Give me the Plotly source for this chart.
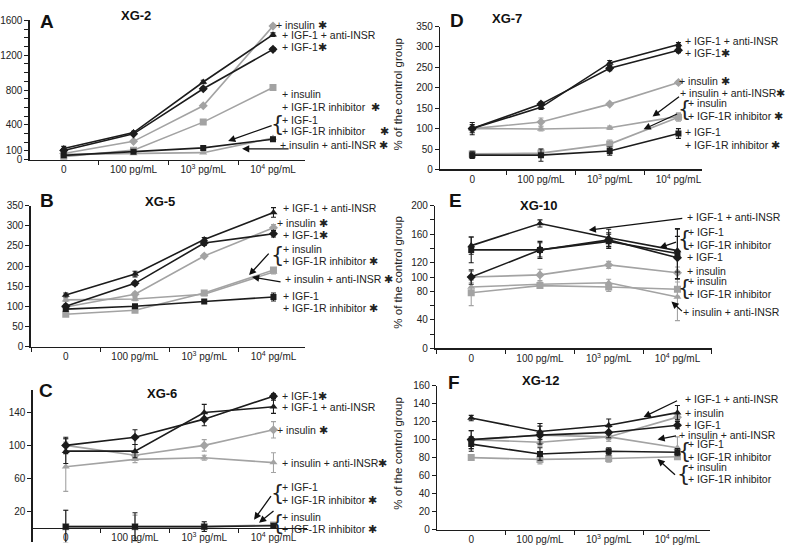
import plotly.graph_objects as go

# ---------------- data ----------------
CATEGORIES = ["0", "100 pg/mL", "10<sup>3</sup> pg/mL", "10<sup>4</sup> pg/mL"]
SERIES = ["IGF-1", "IGF-1 + anti-INSR", "IGF-1 + IGF-1R inhibitor",
          "insulin", "insulin + anti-INSR", "insulin + IGF-1R inhibitor"]

# values per panel, in SERIES order (% of the control group)
XG2 = [[105, 296, 814, 1267], [127, 311, 892, 1436], [49, 90, 135, 235],
       [71, 210, 619, 1534], [60, 71, 80, 248], [34, 109, 431, 829]]
XG2_ERR = [[20, 15, 20, 20], [25, 15, 20, 20], [10, 10, 10, 10],
           [15, 10, 10, 15], [10, 10, 10, 15], [10, 10, 10, 15]]

XG5 = [[100, 157, 257, 280], [128, 180, 266, 333], [93, 100, 112, 123],
       [98, 130, 225, 295], [116, 118, 130, 185], [80, 90, 133, 190]]
XG5_ERR = [[5, 5, 6, 8], [5, 7, 5, 12], [5, 4, 4, 10],
           [5, 5, 4, 8], [4, 4, 4, 5], [4, 4, 5, 5]]

XG6 = [[100, 110, 132, 160], [93, 93, 140, 147], [1, 1, 1, 2],
       [100, 88, 100, 119], [74, 83, 85, 79], [1, 1, 1, 3]]
XG6_ERR = [[10, 9, 8, 3], [15, 8, 10, 8], [20, 17, 6, 2],
           [8, 4, 7, 10], [30, 4, 3, 12], [20, 14, 6, 2]]

XG7 = [[100, 160, 248, 292], [100, 152, 261, 306], [35, 35, 45, 88],
       [100, 116, 160, 213], [100, 99, 102, 130], [38, 40, 62, 128]]
XG7_ERR = [[15, 5, 6, 6], [10, 5, 6, 5], [8, 15, 10, 12],
           [5, 10, 4, 5], [8, 5, 4, 8], [8, 10, 10, 10]]

XG10 = [[100, 138, 152, 127], [144, 175, 155, 137], [138, 138, 150, 133],
        [100, 103, 117, 106], [86, 90, 92, 72], [78, 88, 86, 83]]
XG10_ERR = [[10, 10, 10, 30], [12, 5, 12, 30], [18, 12, 10, 35],
            [8, 8, 5, 8], [10, 3, 5, 33], [18, 3, 6, 10]]

XG12 = [[100, 105, 108, 116], [124, 109, 116, 130], [95, 84, 87, 86],
        [100, 105, 103, 125], [100, 97, 103, 91], [80, 78, 79, 81]]
XG12_ERR = [[10, 10, 6, 4], [3, 9, 7, 8], [8, 7, 4, 4],
            [10, 13, 5, 5], [10, 4, 3, 12], [2, 5, 4, 3]]

# ---------------- styling ----------------
W, H = 793, 559
FONT = "Liberation Sans, Arial, sans-serif"
BLACK = "#1c1c1c"
GRAY = "#a3a3a3"
STYLE = [  # color, marker symbol, size
    (BLACK, "diamond", 7), (BLACK, "triangle-up", 7), (BLACK, "square", 6),
    (GRAY, "diamond", 7), (GRAY, "triangle-up", 7), (GRAY, "square", 7),
]
DRAW_ORDER = [4, 5, 3, 2, 0, 1]
TICKFONT = dict(family=FONT, size=10, color="#222")
LABELFONT = dict(family=FONT, size=10.5, color="#222")


def PX(x):
    return x / W


def PY(y):
    return 1 - y / H


# panel geometry in pixels: xl, xr, first category px, category spacing, ytop, ybot
PANELS = [
    dict(name="XG-2", letter="A", vals=XG2, err=XG2_ERR, xl=27, xr=303, c0=61, s=70,
         ytop=14.7, ybot=157, yr=[0, 1600],
         tv=list(range(0, 1601, 100)),
         tt=["0", "100", "", "", "400", "", "", "", "800", "", "", "", "1200", "", "", "", "1600"],
         letter_xy=(44, 16), title_xy=(134, 10)),
    dict(name="XG-5", letter="B", vals=XG5, err=XG5_ERR, xl=28, xr=303, c0=63, s=69.5,
         ytop=204, ybot=348, yr=[0, 350],
         tv=list(range(0, 351, 50)), tt=[str(v) for v in range(0, 351, 50)],
         letter_xy=(44, 199), title_xy=(158, 200)),
    dict(name="XG-6", letter="C", vals=XG6, err=XG6_ERR, xl=30, xr=305, c0=63, s=69.5,
         ytop=392, ybot=548, yr=[-18, 168],
         tv=[20, 60, 100, 140], tt=["20", "60", "100", "140"], xaxis_at=533,
         letter_xy=(43, 393), title_xy=(160, 396)),
    dict(name="XG-7", letter="D", vals=XG7, err=XG7_ERR, xl=439, xr=702, c0=471, s=69,
         ytop=21, ybot=167, yr=[0, 350],
         tv=list(range(0, 351, 50)), tt=[str(v) for v in range(0, 351, 50)],
         letter_xy=(456, 15), title_xy=(506, 13), ytitle_y=90),
    dict(name="XG-10", letter="E", vals=XG10, err=XG10_ERR, xl=434, xr=712, c0=470, s=69,
         ytop=204, ybot=350, yr=[0, 200],
         tv=list(range(0, 201, 20)),
         tt=["0", "", "40", "", "80", "100", "120", "", "160", "", "200"],
         letter_xy=(454, 199), title_xy=(538, 204), ytitle_y=272),
    dict(name="XG-12", letter="F", vals=XG12, err=XG12_ERR, xl=436, xr=710, c0=470, s=69,
         ytop=388, ybot=535, yr=[0, 160],
         tv=list(range(0, 161, 20)), tt=[str(v) for v in range(0, 161, 20)],
         letter_xy=(453, 385), title_xy=(540, 383), ytitle_y=457),
]

fig = go.Figure()
annotations = []
layout = {}

for i, p in enumerate(PANELS):
    k = "" if i == 0 else str(i + 1)
    xa, ya = "x" + k, "y" + k
    for si in DRAW_ORDER:
        color, sym, size = STYLE[si]
        fig.add_trace(go.Scatter(
            x=CATEGORIES, y=p["vals"][si], xaxis=xa, yaxis=ya, name=SERIES[si],
            mode="lines+markers", showlegend=False,
            line=dict(color=color, width=1.6),
            marker=dict(color=color, symbol=sym, size=size),
            error_y=dict(type="data", array=p["err"][si], color=color,
                         thickness=1.1, width=2.5),
        ))
    xrange = [(p["xl"] - p["c0"]) / p["s"], (p["xr"] - p["c0"]) / p["s"]]
    xdict = dict(
        type="category", range=xrange, domain=[PX(p["xl"]), PX(p["xr"])],
        showline=True, linecolor=BLACK, linewidth=1.5, showgrid=False, zeroline=False,
        ticks="outside", tickson="boundaries", ticklen=4, tickcolor=BLACK,
        tickfont=TICKFONT, categoryorder="array", categoryarray=CATEGORIES,
    )
    if "xaxis_at" in p:
        xdict.update(anchor="free", position=PY(p["xaxis_at"]))
    else:
        xdict.update(anchor=ya)
    ydict = dict(
        range=p["yr"], domain=[PY(p["ybot"]), PY(p["ytop"])], anchor=xa,
        showline=True, linecolor=BLACK, linewidth=1.5, showgrid=False, zeroline=False,
        ticks="outside", ticklen=4, tickcolor=BLACK,
        tickvals=p["tv"], ticktext=p["tt"], tickfont=TICKFONT,
    )
    layout["xaxis" + k] = xdict
    layout["yaxis" + k] = ydict
    lx, ly = p["letter_xy"]
    annotations.append(dict(x=PX(lx), y=PY(ly), xref="paper", yref="paper", text="<b>%s</b>" % p["letter"],
                            showarrow=False, xanchor="center", yanchor="middle",
                            font=dict(family=FONT, size=19, color="#111")))
    tx, ty = p["title_xy"]
    annotations.append(dict(x=PX(tx), y=PY(ty), xref="paper", yref="paper", text="<b>%s</b>" % p["name"],
                            showarrow=False, xanchor="center", yanchor="middle",
                            font=dict(family=FONT, size=13, color="#111")))
    if "ytitle_y" in p:
        annotations.append(dict(x=PX(397), y=PY(p["ytitle_y"]), xref="paper", yref="paper",
                                text="% of the control group", textangle=-90, showarrow=False,
                                xanchor="center", yanchor="middle",
                                font=dict(family=FONT, size=11.5, color="#222")))

STAR = "\u2731"
# series labels: (text, left x px, centre y px)
LABELS = [
    # A
    ("+ insulin " + STAR, 272, 19), ("+ IGF-1 + anti-INSR", 278, 30), ("+ IGF-1" + STAR, 278, 42),
    ("+ insulin", 278, 90), ("+ IGF-1R inhibitor  " + STAR, 278, 103),
    ("+ IGF-1", 278, 116), ("+ IGF-1R inhibitor     " + STAR, 278, 128),
    ("+ insulin + anti-INSR " + STAR, 276, 142),
    # B
    ("+ IGF-1 + anti-INSR", 279, 206), ("+ insulin " + STAR, 273, 222), ("+ IGF-1" + STAR, 279, 234),
    ("+ insulin", 279, 248), ("+ IGF-1R inhibitor " + STAR, 279, 261),
    ("+ insulin + anti-INSR " + STAR, 281, 279),
    ("+ IGF-1", 279, 296), ("+ IGF-1R inhibitor " + STAR, 279, 309),
    # C
    ("+ IGF-1" + STAR, 278, 399), ("+ IGF-1 + anti-INSR", 278, 410), ("+ insulin " + STAR, 273, 433),
    ("+ insulin + anti-INSR" + STAR, 278, 467),
    ("+ IGF-1", 278, 492), ("+ IGF-1R inhibitor " + STAR, 278, 505),
    ("+ insulin", 278, 522), ("+ IGF-1R inhibitor " + STAR, 278, 534),
    # D
    ("+ IGF-1 + anti-INSR", 683, 36), ("+ IGF-1" + STAR, 683, 48), ("+ insulin " + STAR, 677, 77),
    ("+ insulin + anti-INSR" + STAR, 678, 89),
    ("+ insulin", 686, 99), ("+ IGF-1R inhibitor " + STAR, 686, 112),
    ("+ IGF-1", 683, 129), ("+ IGF-1R inhibitor " + STAR, 683, 142),
    # E
    ("+ IGF-1 + anti-INSR", 685, 216), ("+ IGF-1", 686, 231), ("+ IGF-1R inhibitor", 686, 244),
    ("+ IGF-1", 685, 256), ("+ insulin", 685, 271),
    ("+ insulin", 686, 281), ("+ IGF-1R inhibitor", 686, 294),
    ("+ insulin + anti-INSR", 681, 313),
    # F
    ("+ IGF-1 + anti-INSR", 683, 402), ("+ insulin", 683, 416), ("+ IGF-1", 683, 428),
    ("+ insulin + anti-INSR", 677, 438),
    ("+ IGF-1", 686, 448), ("+ IGF-1R inhibitor", 686, 461),
    ("+ insulin", 686, 471), ("+ IGF-1R inhibitor", 686, 483),
]
for t, x, y in LABELS:
    annotations.append(dict(x=PX(x), y=PY(y), xref="paper", yref="paper", text=t, showarrow=False,
                            xanchor="left", yanchor="middle", font=LABELFONT))

# curly brackets grouping two-line labels: (x px, centre y px)
BRACKETS = [(276, 121), (276, 254), (276, 498), (276, 528), (684, 105), (684, 238), (684, 288),
            (684, 455), (683, 478)]
for x, y in BRACKETS:
    annotations.append(dict(x=PX(x), y=PY(y), xref="paper", yref="paper", text="{", showarrow=False,
                            xanchor="center", yanchor="middle",
                            font=dict(family="DejaVu Sans, sans-serif", size=21, color="#222")))

# arrows: (tail x, tail y, head x, head y) in px
ARROWS = [
    (271, 122, 226, 138), (288, 146, 240, 146),
    (268, 252, 247, 275), (280, 282, 250, 277),
    (270, 500, 252, 525), (273, 515, 257, 528),
    (680, 92, 652, 113), (678, 110, 643, 126),
    (683, 217, 588, 229), (677, 241, 659, 247), (683, 313, 671, 302),
    (678, 403, 643, 420), (677, 439, 657, 443), (676, 480, 657, 463),
]
for tx, ty, hx, hy in ARROWS:
    annotations.append(dict(x=PX(hx), y=PY(hy), xref="paper", yref="paper", text="",
                            showarrow=True, ax=tx - hx, ay=ty - hy, arrowhead=2, arrowsize=1.1,
                            arrowwidth=1.3, arrowcolor="#111", standoff=0, startstandoff=0))

fig.update_layout(
    width=W, height=H, margin=dict(l=0, r=0, t=0, b=0),
    paper_bgcolor="white", plot_bgcolor="rgba(0,0,0,0)",
    font=dict(family=FONT, size=11, color="#222"),
    annotations=annotations, showlegend=False, hovermode=False,
    **layout,
)
fig.write_html("out.html", config={"displayModeBar": False, "staticPlot": True},
               post_script="document.body.style.margin='0px';")
